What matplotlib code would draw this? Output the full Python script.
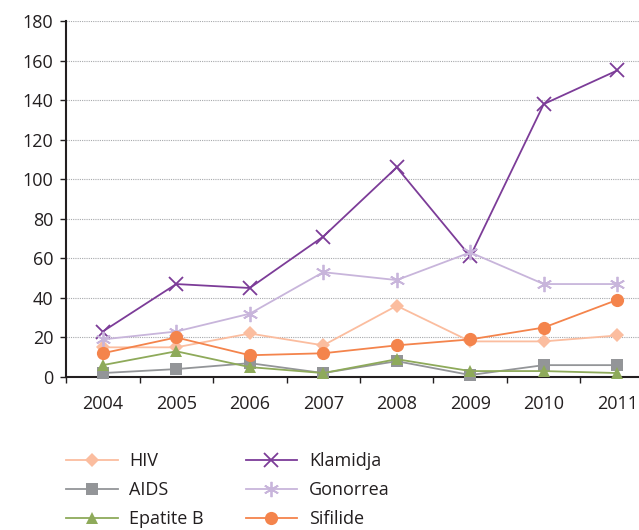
import numpy as np
import matplotlib
matplotlib.use("Agg")
import matplotlib.pyplot as plt

plt.rcParams["font.family"] = ["Open Sans", "DejaVu Sans"]

# ── data ────────────────────────────────────────────────────────
years = ["2004", "2005", "2006", "2007", "2008", "2009", "2010", "2011"]

hiv       = [15, 15, 22, 16, 36, 18, 18, 21]
aids      = [2, 4, 7, 2, 8, 1, 6, 6]
epatite_b = [6, 13, 5, 2, 9, 3, 3, 2]
klamidja  = [23, 47, 45, 71, 106, 61, 138, 155]
gonorrea  = [19, 23, 32, 53, 49, 63, 47, 47]
sifilide  = [12, 20, 11, 12, 16, 19, 25, 39]

series = [
    # label, values, colour, marker, marker size
    ("HIV",       hiv,       "#fbbd9f", "D", 7),
    ("AIDS",      aids,      "#939598", "s", 8.5),
    ("Epatite B", epatite_b, "#8eaa5a", "^", 8.5),
    ("Klamidja",  klamidja,  "#7c3c98", "x", 10),
    ("Gonorrea",  gonorrea,  "#c8b5db", (6, 2, 0), 11),
    ("Sifilide",  sifilide,  "#f4844c", "o", 9.5),
]

# ── figure ──────────────────────────────────────────────────────
W, H = 639, 530
fig = plt.figure(figsize=(W / 100, H / 100), dpi=100)
fig.patch.set_facecolor("white")

# axes run past the right edge, as in the cropped original
ax = fig.add_axes([66 / W, 153 / H, 588 / W, 356 / H])

x = np.arange(len(years))
handles = []
for label, vals, col, mk, ms in series:
    mew = 1.3 if mk in ("x", (6, 2, 0)) else 0
    h, = ax.plot(x, vals, color=col, lw=1.3, marker=mk, ms=ms,
                 markerfacecolor=col, markeredgecolor=col,
                 markeredgewidth=mew, label=label, clip_on=False,
                 zorder=3)
    handles.append(h)

ax.set_xlim(-0.5, len(years) - 0.5)
ax.set_ylim(0, 180)
ax.set_yticks(range(0, 181, 20))
ax.set_xticks(x)
ax.set_xticklabels(years)
ax.set_xticks(np.arange(-0.5, len(years), 1.0), minor=True)

ax.tick_params(axis="x", which="major", length=0, pad=13,
               labelsize=13, labelcolor="#231f20")
ax.tick_params(axis="x", which="minor", length=4, width=1, direction="out",
               color="#231f20")
ax.tick_params(axis="y", length=4, width=1, direction="out", pad=5,
               labelsize=13, labelcolor="#231f20", color="#231f20")

ax.yaxis.grid(True, linestyle=(0, (1, 1)), color="#a7a9ac", lw=0.8)
ax.set_axisbelow(True)

for side in ("top", "right"):
    ax.spines[side].set_visible(False)
ax.spines["left"].set_linewidth(1.5)
ax.spines["bottom"].set_linewidth(1.5)
ax.spines["left"].set_color("#231f20")
ax.spines["bottom"].set_color("#231f20")

leg = fig.legend(handles=handles, ncol=2, loc="upper left",
                 bbox_to_anchor=(50 / W, 1 - 436 / H), frameon=False,
                 fontsize=13, handlelength=2.85, handletextpad=0.65,
                 columnspacing=2.3, labelspacing=0.6,
                 labelcolor="#231f20")

fig.savefig("out.png", dpi=100, facecolor="white")
